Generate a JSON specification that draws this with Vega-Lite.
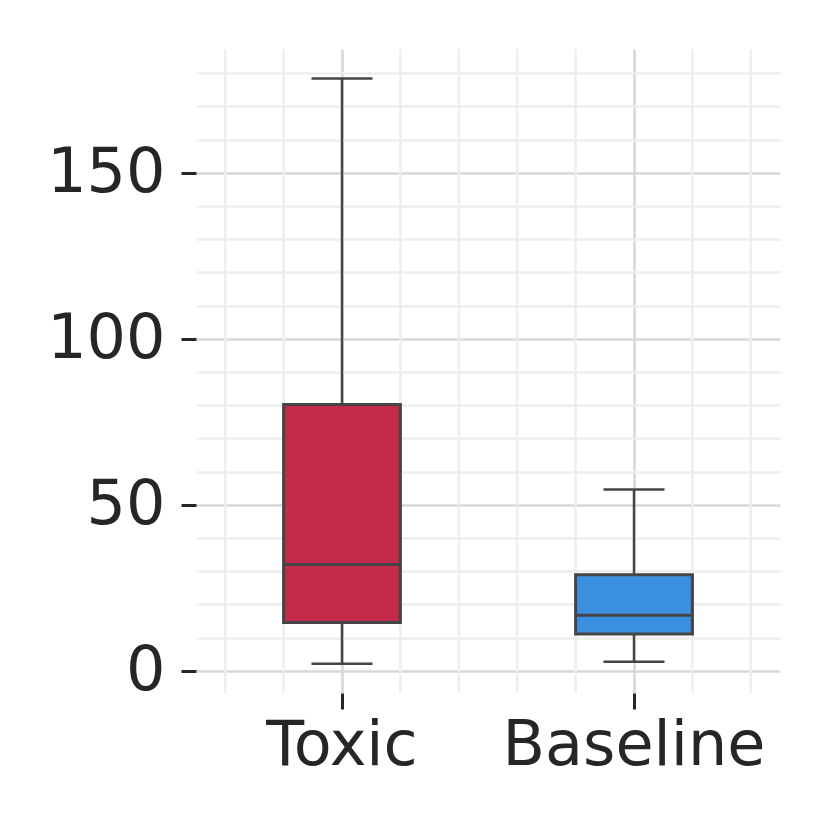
{
  "$schema": "https://vega.github.io/schema/vega-lite/v6.json",
  "width": 584,
  "height": 644,
  "autosize": "none",
  "padding": {"left": 196, "top": 49, "right": 50, "bottom": 137},
  "background": "white",
  "config": {"view": {"stroke": null}, "font": "DejaVu Sans"},
  "data": {
    "values": [
      {"group": "Toxic", "lower": 2.1, "q1": 14.5, "median": 32.0, "q3": 80.2, "upper": 178.4},
      {"group": "Baseline", "lower": 2.7, "q1": 11.1, "median": 16.7, "q3": 28.9, "upper": 54.6}
    ]
  },
  "encoding": {
    "y": {
      "type": "quantitative",
      "scale": {"domain": [-6.7, 187.3], "nice": false, "zero": false},
      "axis": {
        "title": null, "values": [0, 10, 20, 30, 40, 50, 60, 70, 80, 90, 100, 110, 120, 130, 140, 150, 160, 170, 180],
        "labelExpr": "datum.value % 50 === 0 ? datum.label : ''",
        "labelOverlap": false, "labelBound": false, "labelFlush": false,
        "grid": true,
        "gridColor": {"condition": {"test": "datum.value % 50 === 0", "value": "#d7d7d7"}, "value": "#eeeeee"},
        "gridWidth": 2.5,
        "domain": false, "tickSize": 15, "tickWidth": 3,
        "tickColor": {"condition": {"test": "datum.value % 50 === 0", "value": "#262626"}, "value": "transparent"},
        "labelFontSize": 62, "labelColor": "#262626", "labelPadding": 16, "labelFont": "DejaVu Sans"
      }
    }
  },
  "layer": [
    {
      "mark": {"type": "rule", "color": "#eeeeee", "strokeWidth": 2.5},
      "encoding": {"x": {"field": "group", "type": "nominal", "sort": ["Toxic", "Baseline"], "bandPosition": 0.1}}
    },
    {
      "mark": {"type": "rule", "color": "#eeeeee", "strokeWidth": 2.5},
      "encoding": {"x": {"field": "group", "type": "nominal", "sort": ["Toxic", "Baseline"], "bandPosition": 0.3}}
    },
    {
      "mark": {"type": "rule", "color": "#eeeeee", "strokeWidth": 2.5},
      "encoding": {"x": {"field": "group", "type": "nominal", "sort": ["Toxic", "Baseline"], "bandPosition": 0.7}}
    },
    {
      "mark": {"type": "rule", "color": "#eeeeee", "strokeWidth": 2.5},
      "encoding": {"x": {"field": "group", "type": "nominal", "sort": ["Toxic", "Baseline"], "bandPosition": 0.9}}
    },
    {
      "mark": {"type": "rule", "color": "#454545", "strokeWidth": 2.5},
      "encoding": {
        "x": {
          "field": "group", "type": "nominal", "sort": ["Toxic", "Baseline"],
          "scale": {"paddingInner": 0, "paddingOuter": 0},
          "axis": {
            "title": null, "labelAngle": 0, "labelAlign": "center", "labelBaseline": "top", "labelLimit": 500,
            "labelOverlap": false, "grid": true, "gridColor": "#d7d7d7", "gridWidth": 2.5,
            "domain": false, "tickSize": 16, "tickWidth": 3, "tickColor": "#262626",
            "labelFontSize": 62, "labelColor": "#262626", "labelPadding": 6, "labelFont": "DejaVu Sans"
          }
        },
        "y": {"field": "lower"},
        "y2": {"field": "upper"}
      }
    },
    {
      "mark": {"type": "tick", "color": "#454545", "thickness": 2.5, "size": 61, "opacity": 1},
      "encoding": {
        "x": {"field": "group", "type": "nominal", "sort": ["Toxic", "Baseline"]},
        "y": {"field": "lower"}
      }
    },
    {
      "mark": {"type": "tick", "color": "#454545", "thickness": 2.5, "size": 61, "opacity": 1},
      "encoding": {
        "x": {"field": "group", "type": "nominal", "sort": ["Toxic", "Baseline"]},
        "y": {"field": "upper"}
      }
    },
    {
      "mark": {"type": "bar", "width": {"band": 0.4}, "stroke": "#454545", "strokeWidth": 3, "opacity": 1},
      "encoding": {
        "x": {"field": "group", "type": "nominal", "sort": ["Toxic", "Baseline"]},
        "y": {"field": "q1"},
        "y2": {"field": "q3"},
        "fill": {
          "field": "group", "type": "nominal",
          "scale": {"domain": ["Toxic", "Baseline"], "range": ["#c42b4a", "#3b8fe0"]},
          "legend": null
        }
      }
    },
    {
      "mark": {"type": "tick", "color": "#454545", "thickness": 3, "size": 117, "opacity": 1},
      "encoding": {
        "x": {"field": "group", "type": "nominal", "sort": ["Toxic", "Baseline"]},
        "y": {"field": "median"}
      }
    }
  ]
}
